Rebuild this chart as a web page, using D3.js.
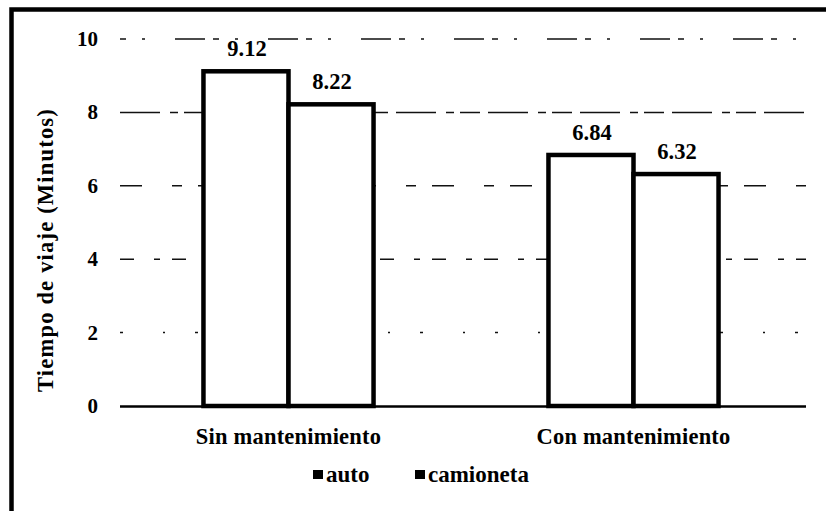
<!DOCTYPE html>
<html>
<head>
<meta charset="utf-8">
<script src="https://cdn.jsdelivr.net/npm/d3@7"></script>
<style>
  body { margin: 0; background: white; }
</style>
</head>
<body>
<div id="chart"></div>
<script>
let w = 826;
let h = 511;

// data
let categories = ["Sin mantenimiento", "Con mantenimiento"];
let seriesNames = ["auto", "camioneta"];
let autoValues = [9.12, 6.84];
let camionetaValues = [8.22, 6.32];
let yTicks = [0, 2, 4, 6, 8, 10];

let rows = categories.map(function(c, i){
    return {cat: c, values: [autoValues[i], camionetaValues[i]]};
});

let svg = d3.select("#chart").append("svg")
    .attr("width", w)
    .attr("height", h)
    .attr("font-family", "'Liberation Serif', Tinos, 'Times New Roman', serif")
    .attr("font-weight", "bold");

// outer frame (only top and left visible in the scan)
svg.append("path")
    .attr("d", "M11.5," + h + " V9.5 H" + w)
    .attr("fill", "none")
    .attr("stroke", "black")
    .attr("stroke-width", 4.5);

let plotLeft = 116, plotRight = 806, plotTop = 39, plotBottom = 406;

let xScale = d3.scaleBand().domain(categories).range([plotLeft, plotRight]).paddingInner(0.507).paddingOuter(0.2535);
let inner = d3.scaleBand().domain(seriesNames).range([0, xScale.bandwidth()]);
let yScale = d3.scaleLinear().domain([0, 10]).range([plotBottom, plotTop]);

// gridlines, broken dashes like the scan
svg.append("g").selectAll("line")
    .data(yTicks.filter(d => d > 0))
    .join("line")
    .attr("x1", 120)
    .attr("x2", plotRight)
    .attr("y1", d => yScale(d))
    .attr("y2", d => yScale(d))
    .attr("stroke", "#111")
    .attr("stroke-width", 1.5)
    .attr("stroke-dasharray", function(d, i){
        return ["3,40,2,30", "14,20,6,12", "22,30,10,16", "40,10,8,6,20,8", "6,16,3,30,30,8"][i];
    });

// y tick labels
svg.append("g").selectAll("text")
    .data(yTicks)
    .join("text")
    .attr("x", 98)
    .attr("y", d => yScale(d) + 7)
    .attr("text-anchor", "end")
    .attr("font-size", 21)
    .text(d => d);

// axis title
svg.append("text")
    .attr("transform", "translate(53,250) rotate(-90)")
    .attr("text-anchor", "middle")
    .attr("font-size", 22.5)
    .attr("letter-spacing", 1.2)
    .text("Tiempo de viaje (Minutos)");

// bars
let groups = svg.append("g").selectAll("g")
    .data(rows)
    .join("g")
    .attr("transform", d => "translate(" + xScale(d.cat) + ",0)");

groups.selectAll("rect")
    .data(d => d.values.map((v, i) => ({name: seriesNames[i], value: v})))
    .join("rect")
    .attr("x", d => inner(d.name))
    .attr("y", d => yScale(d.value))
    .attr("width", inner.bandwidth())
    .attr("height", d => plotBottom - yScale(d.value))
    .attr("fill", "white")
    .attr("stroke", "black")
    .attr("stroke-width", 4.5);

groups.selectAll("text")
    .data(d => d.values.map((v, i) => ({name: seriesNames[i], value: v})))
    .join("text")
    .attr("x", d => inner(d.name) + inner.bandwidth() / 2 + 1)
    .attr("y", d => yScale(d.value) - 15)
    .attr("text-anchor", "middle")
    .attr("font-size", 22.5)
    .text(d => d.value.toFixed(2));

// baseline axis
svg.append("line")
    .attr("x1", 120)
    .attr("x2", plotRight)
    .attr("y1", plotBottom + 0.5)
    .attr("y2", plotBottom + 0.5)
    .attr("stroke", "black")
    .attr("stroke-width", 2.5);

// category labels
svg.append("g").selectAll("text")
    .data(categories)
    .join("text")
    .attr("x", d => xScale(d) + xScale.bandwidth() / 2)
    .attr("y", 444)
    .attr("text-anchor", "middle")
    .attr("font-size", 22.5)
    .attr("letter-spacing", 0.2)
    .text(d => d);

// legend
let legend = svg.append("g").selectAll("g")
    .data(seriesNames)
    .join("g")
    .attr("transform", (d, i) => "translate(" + [313, 415][i] + ",482)");

legend.append("rect")
    .attr("x", 0)
    .attr("y", -12)
    .attr("width", 10)
    .attr("height", 9)
    .attr("fill", "black");

legend.append("text")
    .attr("x", 13)
    .attr("y", 0)
    .attr("font-size", 23)
    .text(d => d);
</script>
</body>
</html>
